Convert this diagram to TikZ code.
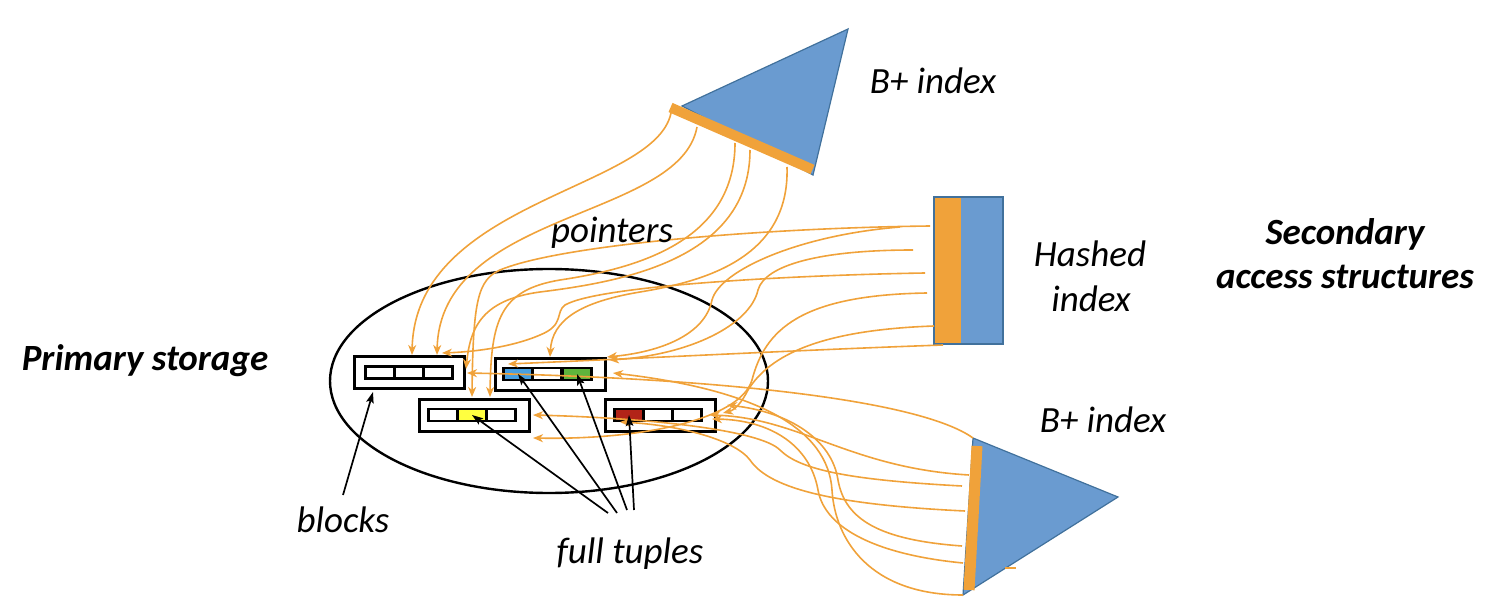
\documentclass[tikz,border=0pt]{standalone}
\usepackage{fontspec}
\setmainfont{Carlito}
\usetikzlibrary{arrows.meta}
\definecolor{org}{RGB}{240,162,58}
\definecolor{bpblue}{RGB}{106,155,208}
\definecolor{bpedge}{RGB}{65,113,156}
\definecolor{cblue}{RGB}{72,160,225}
\definecolor{cgreen}{RGB}{95,180,60}
\definecolor{cyellow}{RGB}{255,255,64}
\definecolor{cred}{RGB}{178,36,24}
\begin{document}
\begin{tikzpicture}[x=1pt,y=-1pt,
  ptr/.style={draw=org,line width=1.6pt,-{Stealth[length=10pt,width=8pt,inset=3pt]}},
  blk/.style={draw=black,line width=1.7pt,-{Stealth[length=11pt,width=7.5pt,inset=2pt]}},
  blockbox/.style={draw=black,line width=3pt,minimum width=110pt,minimum height=32pt,inner sep=0pt},
  cell/.style={draw=black,line width=2.6pt,minimum width=29pt,minimum height=12pt,inner sep=0pt,fill=white},
  lbl/.style={font=\fontsize{37}{44}\selectfont\itshape,anchor=base,inner sep=0pt},
  blbl/.style={font=\fontsize{37}{44}\selectfont\bfseries\itshape,anchor=base,inner sep=0pt}]
\useasboundingbox (0,0) rectangle (1496,612);

% primary storage ellipse
\draw[line width=2.4pt] (549,381) ellipse [x radius=219pt, y radius=112pt];

% blocks
\node[blockbox] (b1) at (409,372) {};
\node[cell] (b1c1) at (380,372.5) {};
\node[cell] (b1c2) at (409,372.5) {};
\node[cell] (b1c3) at (438,372.5) {};
\node[blockbox] (b2) at (550,374.5) {};
\node[cell,fill=cblue] (b2c1) at (518,374) {};
\node[cell] (b2c2) at (547,374) {};
\node[cell,fill=cgreen] (b2c3) at (577,374) {};
\node[blockbox] (b3) at (474,415.5) {};
\node[cell] (b3c1) at (443,415) {};
\node[cell,fill=cyellow] (b3c2) at (472,415) {};
\node[cell] (b3c3) at (501,415) {};
\node[blockbox] (b4) at (660,415.5) {};
\node[cell,fill=cred] (b4c1) at (629,415) {};
\node[cell] (b4c2) at (658,415) {};
\node[cell] (b4c3) at (687,415) {};

% top B+ index
\draw[fill=bpblue,draw=bpedge,line width=1.2pt] (682,106) -- (848,29) -- (813,175) -- cycle;
\draw[org,line width=10pt] (670.5,107.5) -- (812.5,169.5);
% hashed index
\fill[org] (934,197) rectangle (961,344);
\fill[bpblue] (961,197) rectangle (1003,344);
\draw[bpedge,line width=1.2pt] (934,197) rectangle (1003,344);
% bottom B+ index
\draw[fill=bpblue,draw=bpedge,line width=1.2pt] (973,438) -- (1118,497) -- (963,595) -- cycle;
\draw[org,line width=11pt] (977,446) -- (969,590);
\draw[org,line width=2pt] (1005,568) -- (1016,568);

% coordinates: sources
\coordinate (t1) at (671,113);
\coordinate (t2) at (697,127);
\coordinate (t3) at (735,143);
\coordinate (t4) at (750,150);
\coordinate (t5) at (787,167);
\coordinate (h1a) at (930,226);
\coordinate (h1b) at (900,227);
\coordinate (h2) at (913,250);
\coordinate (h3) at (925,273);
\coordinate (h4) at (927,293);
\coordinate (h5) at (934,326);
\coordinate (h6) at (943,345);
\coordinate (s1) at (973,438);
\coordinate (s2) at (969,475);
\coordinate (s3) at (962,486);
\coordinate (s4) at (965,511);
\coordinate (s5) at (962,546);
\coordinate (s6) at (963,563);
\coordinate (s7) at (963,595);
% coordinates: targets
\coordinate (d1) at (412,355);
\coordinate (d2) at (437,355);
\coordinate (d3) at (472,397);
\coordinate (d4) at (490,397);
\coordinate (d5) at (550,357);
\coordinate (d6) at (466,369);
\coordinate (e1) at (442,353);
\coordinate (e2) at (467,373);
\coordinate (e3) at (508,364);
\coordinate (e4) at (607,357);
\coordinate (e5) at (613,373);
\coordinate (e6) at (533,415);
\coordinate (e7) at (533,438);
\coordinate (e8) at (620,422);
\coordinate (e9) at (710,415);
\coordinate (e10) at (723,413);
\coordinate (e11) at (727,405);
\coordinate (e12) at (712,419);

% pointers from top B+ index
\draw[ptr] (t1) .. controls (655,190) and (415,200) .. (d1);
\draw[ptr] (t2) .. controls (680,220) and (440,210) .. (d2);
\draw[ptr] (t3) .. controls (735,240) and (640,268) .. (560,280) .. controls (500,290) and (491,320) .. (d4);
\draw[ptr] (t4) .. controls (750,260) and (620,282) .. (540,292) .. controls (480,300) and (470,330) .. (d6);
\draw[ptr] (t5) .. controls (790,260) and (700,282) .. (640,292) .. controls (580,302) and (552,320) .. (d5);

% pointers from hashed index
\draw[ptr] (h1a) .. controls (760,228) and (560,245) .. (500,270) .. controls (478,280) and (473,300) .. (d3);
\draw[ptr] (h1b) .. controls (800,235) and (720,270) .. (712,300) .. controls (705,335) and (660,352) .. (e4);
\draw[ptr] (h2) .. controls (820,250) and (765,265) .. (758,290) .. controls (750,325) and (690,355) .. (609,360);
\draw[ptr] (h3) .. controls (800,275) and (600,285) .. (565,305) .. controls (555,312) and (565,325) .. (540,335) .. controls (510,348) and (470,352) .. (e1);
\draw[ptr] (h4) .. controls (800,295) and (765,330) .. (752,380) .. controls (740,420) and (640,440) .. (e7);
\draw[ptr] (h5) .. controls (820,330) and (770,355) .. (748,390) .. controls (742,402) and (735,410) .. (e10);
\draw[ptr] (h6) .. controls (800,350) and (650,358) .. (e3);

% pointers from bottom B+ index
\draw[ptr] (s1) .. controls (920,400) and (720,378) .. (e2);
\draw[ptr] (s2) .. controls (850,468) and (800,418) .. (e9);
\draw[ptr] (s3) .. controls (850,480) and (800,470) .. (780,450) .. controls (760,430) and (650,418) .. (e6);
\draw[ptr] (s4) .. controls (840,505) and (770,490) .. (750,460) .. controls (735,440) and (680,425) .. (e8);
\draw[ptr] (s5) .. controls (880,540) and (845,520) .. (838,480) .. controls (832,440) and (790,412) .. (e11);
\draw[ptr] (s6) .. controls (880,555) and (825,530) .. (818,490) .. controls (810,445) and (770,420) .. (e12);
\draw[ptr] (s7) .. controls (870,595) and (835,540) .. (832,490) .. controls (828,430) and (760,390) .. (e5);

% labels
\node[lbl] (lbt) at (933,94) {B+ index};
\node[lbl] (lhash1) at (1090,267) {Hashed};
\node[lbl] (lhash2) at (1091,311) {index};
\node[blbl] (lsec1) at (1345,245) {Secondary};
\node[blbl] (lsec2) at (1345,288) {access structures};
\node[lbl] (lbb) at (1103,432) {B+ index};
\node[blbl] (lprim) at (145,370) {Primary storage};
\node[lbl] (lptr) at (612,243) {pointers};
\node[lbl] (lblocks) at (343,532) {blocks};
\node[lbl] (ltup) at (630,563) {full tuples};

% black arrows
\coordinate (ab) at (343,495);
\coordinate (ab2) at (373,392);
\coordinate (at1) at (608,513);
\coordinate (at2) at (617,513);
\coordinate (at3) at (627,510);
\coordinate (at4) at (634,510);
\draw[blk] (ab) -- (ab2);
\draw[blk] (at1) -- (b3c2.center);
\draw[blk] (at2) -- (b2c1.center);
\draw[blk] (at3) -- (b2c3.center);
\draw[blk] (at4) -- (b4c1.center);
\end{tikzpicture}
\end{document}
